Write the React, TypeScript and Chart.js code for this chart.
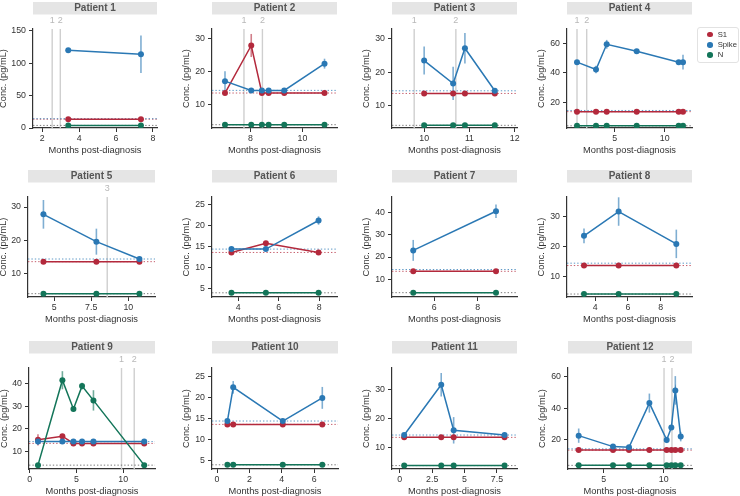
import React, { useEffect, useRef } from "react";
import { Chart, registerables } from "chart.js";

Chart.register(...registerables);

const FONT = '"Liberation Sans", Arial, Helvetica, sans-serif';

const patientNames = [
  "Patient 1", "Patient 2", "Patient 3", "Patient 4",
  "Patient 5", "Patient 6", "Patient 7", "Patient 8",
  "Patient 9", "Patient 10", "Patient 11", "Patient 12",
];

const seriesNames = ["S1", "Spike", "N"];
const seriesColors = ["#b3293c", "#2a78b4", "#137559"];
const lodValues = [13.6, 14.4, 4.0];

const months: number[][] = [
  [3.41, 7.35],
  [7.02, 8.03, 8.44, 8.7, 9.3, 10.85],
  [10.0, 10.64, 10.9, 11.56],
  [1.23, 3.13, 4.2, 7.2, 11.4, 11.83],
  [4.28, 7.85, 10.75],
  [3.67, 5.37, 7.97],
  [5.03, 8.85],
  [3.31, 5.43, 8.96],
  [0.89, 3.5, 4.68, 5.6, 6.82, 12.25],
  [0.64, 1.0, 4.06, 6.5],
  [0.34, 3.2, 4.16, 8.09],
  [2.92, 5.78, 7.11, 8.81, 10.25, 10.64, 10.97, 11.42],
];

const s1Values: number[][] = [
  [13.6, 13.6],
  [13.6, 28, 13.6, 13.6, 13.6, 13.6],
  [13.6, 13.6, 13.6, 13.6],
  [13.6, 13.6, 13.6, 13.6, 13.6, 13.6],
  [13.6, 13.6, 13.6],
  [13.6, 15.8, 13.6],
  [13.6, 13.6],
  [13.6, 13.6, 13.6],
  [15.2, 16.8, 13.6, 13.6, 13.6, 13.6],
  [13.6, 13.6, 13.6, 13.6],
  [13.6, 13.6, 13.6, 13.6],
  [13.6, 13.6, 13.6, 13.6, 13.6, 13.6, 13.6, 13.6],
];

const s1Errors: number[][] = [
  [0, 0],
  [0, 3.5, 0, 0, 0, 0],
  [0, 0, 0, 0],
  [0, 0, 0, 0, 0, 0],
  [0, 0, 0],
  [0, 0, 0],
  [0, 0],
  [0, 0, 0],
  [2.5, 0.5, 0, 0, 0, 0],
  [0, 0, 0, 0],
  [0, 0, 0, 0],
  [0, 0, 0, 0, 0, 0, 0, 0],
];

const spikeValues: number[][] = [
  [120, 114],
  [17.2, 14.4, 14.4, 14.4, 14.4, 22.5],
  [23.5, 16.6, 27.2, 14.4],
  [47.2, 42.2, 59.3, 54.6, 47.2, 47.2],
  [27.8, 19.6, 14.4],
  [14.4, 14.4, 21.2],
  [23.0, 40.6],
  [23.6, 31.8, 20.9],
  [14.4, 14.4, 14.4, 14.4, 14.4, 14.4],
  [14.4, 22.4, 14.4, 19.9],
  [14.4, 31.5, 16.0, 14.4],
  [22.7, 15.8, 15.4, 43.2, 20.0, 27.8, 51.2, 22.1],
];

const spikeErrors: number[][] = [
  [1.5, 29],
  [3, 0, 0, 0, 0, 1.5],
  [4.2, 5, 4.6, 0],
  [1.5, 2.5, 3, 0, 0, 5],
  [4.3, 3.9, 0.5],
  [0, 0, 1],
  [4.7, 3],
  [2.5, 4.8, 4.8],
  [1.5, 0, 0, 0, 0, 0],
  [0, 1.5, 0, 2.6],
  [0, 4, 4.5, 0],
  [4.5, 1.5, 1, 6, 2, 0, 9, 3],
];

const nValues: number[][] = [
  [4, 4],
  [4, 4, 4, 4, 4, 4],
  [4, 4, 4, 4],
  [4, 4, 4, 4, 4, 4],
  [4, 4, 4],
  [4, 4, 4],
  [4, 4],
  [4, 4, 4],
  [4, 41.5, 28.8, 38.9, 32.6, 4],
  [4, 4, 4, 4],
  [4, 4, 4, 4],
  [4, 4, 4, 4, 4, 4, 4, 4],
];

const nErrors: number[][] = [
  [0, 0],
  [0, 0, 0, 0, 0, 0],
  [0, 0, 0, 0],
  [0, 0, 0, 0, 0, 0],
  [0, 0, 0],
  [0, 0, 0],
  [0, 0],
  [0, 0, 0],
  [0, 4, 1, 1.5, 4.5, 0],
  [0, 0, 0, 0],
  [0, 0, 0, 0],
  [0, 0, 0, 0, 0, 0, 0, 0],
];

const eventLabels: string[][] = [
  ["1", "2"], ["1", "2"], ["1", "2"], ["1", "2"],
  ["3"], [], [], [],
  ["1", "2"], [], [], ["1", "2"],
];
const eventMonths: number[][] = [
  [2.54, 2.98], [7.75, 8.46], [9.78, 10.7], [1.23, 2.2],
  [8.58], [], [], [],
  [9.82, 11.18], [], [], [10.03, 10.69],
];

const xTickValues: number[][] = [
  [2, 4, 6, 8], [8, 10], [10, 11, 12], [5, 10],
  [5, 7.5, 10], [4, 6, 8], [6, 8], [4, 6, 8],
  [0, 5, 10], [0, 2, 4, 6], [0, 2.5, 5, 7.5], [5, 10],
];
const yTickValues: number[][] = [
  [0, 50, 100, 150], [10, 20, 30], [10, 20, 30], [20, 40, 60],
  [10, 20, 30], [5, 10, 15, 20, 25], [10, 20, 30, 40], [10, 20, 30],
  [10, 20, 30, 40], [5, 10, 15, 20, 25], [10, 20, 30], [20, 40, 60],
];
const xLimits: number[][] = [
  [1.5, 8.22], [6.52, 11.33], [9.29, 12.05], [0.23, 12.73],
  [3.24, 11.8], [2.71, 8.88], [4.05, 9.82], [2.27, 9.92],
  [-0.07, 13.4], [-0.31, 7.47], [-0.6, 9.05], [2.03, 12.36],
];
const yLimits: number[][] = [
  [0, 153], [3, 33], [3.2, 33], [2.5, 69.7],
  [3, 33], [3, 26.8], [2.05, 47], [3, 36.7],
  [2.3, 46.9], [3, 27], [2.84, 37.2], [1.7, 65.3],
];

// layout (page pixels)
const plotLeft = [33, 212, 392, 567, 28, 212, 392, 567, 29, 212, 392, 568];
const plotRight = [157, 337, 517, 692, 155, 337, 517, 692, 155, 338, 517, 692];
const rowTop = [29, 197, 368];
const rowBottom = [128, 297, 469];
const yAxisWidth = [35, 31, 31, 31, 30, 31, 31, 31, 30, 31, 31, 31];

function withAlpha(hex: string, a: number) {
  const r = parseInt(hex.slice(1, 3), 16);
  const g = parseInt(hex.slice(3, 5), 16);
  const b = parseInt(hex.slice(5, 7), 16);
  return `rgba(${r},${g},${b},${a})`;
}

const decorPlugin = {
  id: "decor",
  beforeDatasetsDraw(chart: any, _args: any, opts: any) {
    const { ctx, chartArea: ca, scales } = chart;
    const x = scales.x;
    const y = scales.y;
    ctx.save();
    // facet title box
    ctx.fillStyle = "#e5e5e5";
    ctx.fillRect(ca.left, ca.top - 27, ca.right - ca.left, 12.5);
    ctx.fillStyle = "#555555";
    ctx.font = `bold 10px ${FONT}`;
    ctx.textAlign = "center";
    ctx.textBaseline = "middle";
    ctx.fillText(opts.title, (ca.left + ca.right) / 2, ca.top - 20.5);
    // events
    const ev: number[] = opts.eventMonths || [];
    const evl: string[] = opts.eventLabels || [];
    ev.forEach((m, k) => {
      const px = x.getPixelForValue(m);
      ctx.strokeStyle = "#cfcfcf";
      ctx.lineWidth = 1.4;
      ctx.beginPath();
      ctx.moveTo(px, ca.top);
      ctx.lineTo(px, ca.bottom);
      ctx.stroke();
      ctx.fillStyle = "#b8b8b8";
      ctx.font = `9px ${FONT}`;
      ctx.fillText(evl[k], px, ca.top - 8);
    });
    // LOD lines
    ctx.beginPath();
    ctx.rect(ca.left, ca.top, ca.right - ca.left, ca.bottom - ca.top);
    ctx.clip();
    ctx.setLineDash([1.4, 2]);
    ctx.lineWidth = 1;
    lodValues.forEach((v, k) => {
      const py = y.getPixelForValue(v);
      ctx.strokeStyle = k === 2 ? "rgba(90,90,90,0.8)" : withAlpha(seriesColors[k], 0.75);
      ctx.beginPath();
      ctx.moveTo(ca.left, py);
      ctx.lineTo(ca.right, py);
      ctx.stroke();
    });
    ctx.setLineDash([]);
    // error bars
    chart.data.datasets.forEach((ds: any, di: number) => {
      const meta = chart.getDatasetMeta(di);
      const errs: number[] = ds.errors || [];
      ctx.strokeStyle = withAlpha(ds.baseColor, 0.6);
      ctx.lineWidth = 1.6;
      ds.data.forEach((pt: any, j: number) => {
        const e = errs[j] || 0;
        if (!e) return;
        const px = meta.data[j].x;
        ctx.beginPath();
        ctx.moveTo(px, y.getPixelForValue(pt.y + e));
        ctx.lineTo(px, y.getPixelForValue(pt.y - e));
        ctx.stroke();
      });
    });
    ctx.restore();
  },
};

const PAD_TOP = 28;
const PAD_RIGHT = 10;
const X_AXIS_H = 28;

function Panel({ index }: { index: number }) {
  const ref = useRef<HTMLCanvasElement>(null);
  const row = Math.floor(index / 4);
  const PL = plotLeft[index];
  const PR = plotRight[index];
  const PT = rowTop[row];
  const PB = rowBottom[row];
  const yw = yAxisWidth[index];
  const left = PL - yw;
  const top = PT - PAD_TOP;
  const width = PR - PL + yw + PAD_RIGHT;
  const height = PB - PT + PAD_TOP + X_AXIS_H;

  useEffect(() => {
    const valueSets = [s1Values[index], spikeValues[index], nValues[index]];
    const errSets = [s1Errors[index], spikeErrors[index], nErrors[index]];
    const datasets = seriesNames.map((name, k) => ({
      label: name,
      data: months[index].map((m, j) => ({ x: m, y: valueSets[k][j] })),
      borderColor: seriesColors[k],
      backgroundColor: seriesColors[k],
      baseColor: seriesColors[k],
      errors: errSets[k],
      borderWidth: 1.5,
      pointRadius: 3,
      pointHoverRadius: 3,
      pointBorderWidth: 0,
      showLine: true,
      order: 3 - k,
    }));
    const xt = xTickValues[index];
    const yt = yTickValues[index];
    const tickFont = { size: 8.8, family: FONT };
    const titleFont = { size: 9.3, family: FONT };
    const chart = new Chart(ref.current as HTMLCanvasElement, {
      type: "scatter",
      data: { datasets: datasets as any },
      plugins: [decorPlugin as any],
      options: {
        animation: false,
        responsive: false,
        maintainAspectRatio: false,
        events: [],
        layout: { padding: { top: PAD_TOP, right: PAD_RIGHT, left: 0, bottom: 0 } },
        plugins: {
          legend: { display: false },
          tooltip: { enabled: false },
          decor: {
            title: patientNames[index],
            eventMonths: eventMonths[index],
            eventLabels: eventLabels[index],
          },
        } as any,
        scales: {
          x: {
            type: "linear",
            min: xLimits[index][0],
            max: xLimits[index][1],
            afterBuildTicks: (s: any) => {
              s.ticks = xt.map((v) => ({ value: v }));
            },
            afterFit: (s: any) => {
              s.height = X_AXIS_H;
            },
            grid: {
              display: true,
              drawOnChartArea: false,
              drawTicks: true,
              tickLength: 4,
              color: "#333333",
              lineWidth: 1,
            },
            border: { display: true, color: "#333333", width: 1.2 },
            ticks: {
              font: tickFont,
              color: "#333333",
              padding: 1,
              autoSkip: false,
              maxRotation: 0,
              callback: (v: any) => String(Math.round(Number(v) * 100) / 100),
            },
            title: {
              display: true,
              text: "Months post-diagnosis",
              font: titleFont,
              color: "#333333",
              padding: 0,
            },
          },
          y: {
            type: "linear",
            min: yLimits[index][0],
            max: yLimits[index][1],
            afterBuildTicks: (s: any) => {
              s.ticks = yt.map((v) => ({ value: v }));
            },
            afterFit: (s: any) => {
              s.width = yw;
            },
            grid: {
              display: true,
              drawOnChartArea: false,
              drawTicks: true,
              tickLength: 4,
              color: "#333333",
              lineWidth: 1,
            },
            border: { display: true, color: "#333333", width: 1.2 },
            ticks: {
              font: tickFont,
              color: "#333333",
              padding: 3,
              autoSkip: false,
              callback: (v: any) => String(Math.round(Number(v) * 100) / 100),
            },
            title: {
              display: true,
              text: "Conc. (pg/mL)",
              font: titleFont,
              color: "#333333",
              padding: 0,
            },
          },
        },
      },
    });
    return () => chart.destroy();
  }, [index]);

  return (
    <canvas
      ref={ref}
      width={width}
      height={height}
      style={{ position: "absolute", left, top, width, height }}
    />
  );
}

function Legend() {
  return (
    <div
      style={{
        position: "absolute",
        left: 697,
        top: 27,
        width: 42,
        height: 36,
        border: "1px solid #e2e2e2",
        borderRadius: 3,
        boxSizing: "border-box",
        fontFamily: FONT,
        fontSize: 7.7,
        color: "#333",
      }}
    >
      {seriesNames.map((name, k) => (
        <div key={name} style={{ position: "absolute", left: 0, top: 6.7 + k * 10.3 - 5, height: 10, width: 40 }}>
          <span
            style={{
              position: "absolute",
              left: 9,
              top: 2.2,
              width: 5.6,
              height: 5.6,
              borderRadius: "50%",
              background: seriesColors[k],
            }}
          />
          <span style={{ position: "absolute", left: 19.7, top: 0, lineHeight: "10px", whiteSpace: "nowrap" }}>{name}</span>
        </div>
      ))}
    </div>
  );
}

export default function App() {
  return (
    <div
      style={{
        position: "fixed",
        left: 0,
        top: 0,
        width: 740,
        height: 496,
        background: "#ffffff",
        overflow: "hidden",
      }}
    >
      {patientNames.map((_, i) => (
        <Panel key={i} index={i} />
      ))}
      <Legend />
    </div>
  );
}
